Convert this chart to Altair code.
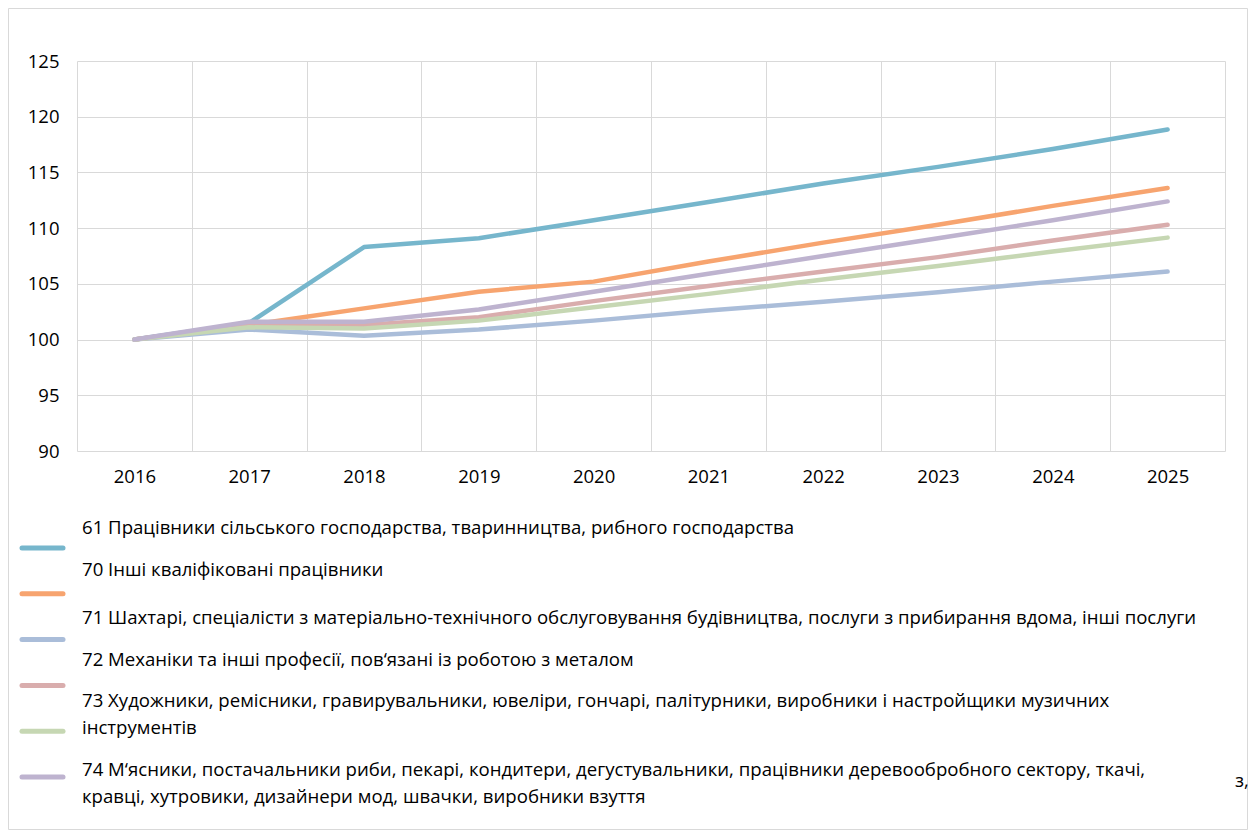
import altair as alt
import pandas as pd

years = [2016, 2017, 2018, 2019, 2020, 2021, 2022, 2023, 2024, 2025]

series_names = [
    "61 Працівники сільського господарства, тваринництва, рибного господарства",
    "70 Інші кваліфіковані працівники",
    "71 Шахтарі, спеціалісти з матеріально-технічного обслуговування будівництва, послуги з прибирання вдома, інші послуги",
    "72 Механіки та інші професії, пов‘язані із роботою з металом",
    "73 Художники, ремісники, гравирувальники, ювеліри, гончарі, палітурники, виробники і настройщики музичних\nінструментів",
    "74 М‘ясники, постачальники риби, пекарі, кондитери, дегустувальники, працівники деревообробного сектору, ткачі,\nкравці, хутровики, дизайнери мод, швачки, виробники взуття",
]
stray_text = "з,"

s61 = [100, 101.5, 108.3, 109.1, 110.7, 112.35, 114.0, 115.5, 117.1, 118.85]
s70 = [100, 101.3, 102.8, 104.3, 105.2, 107.0, 108.7, 110.3, 112.0, 113.6]
s71 = [100, 100.9, 100.35, 100.9, 101.7, 102.6, 103.4, 104.25, 105.2, 106.1]
s72 = [100, 101.3, 101.3, 102.0, 103.45, 104.8, 106.1, 107.4, 108.9, 110.3]
s73 = [100, 101.1, 101.0, 101.7, 102.9, 104.1, 105.4, 106.6, 107.9, 109.15]
s74 = [100, 101.6, 101.6, 102.7, 104.3, 105.9, 107.5, 109.1, 110.7, 112.4]

y_ticks = [90, 95, 100, 105, 110, 115, 120, 125]

colors = ["#76B6CC", "#F7A46F", "#AABDD9", "#D9ADAD", "#C6D7B3", "#BEB3CF"]

all_series = [s61, s70, s71, s72, s73, s74]
keys = [n.split(" ")[0] for n in series_names]

rows = []
for k, (key, vals) in enumerate(zip(keys, all_series)):
    for yr, v in zip(years, vals):
        rows.append({"year": str(yr), "value": v, "code": key, "order": k})
df = pd.DataFrame(rows)

color_scale = alt.Scale(domain=keys, range=colors)

lines = alt.Chart(df).mark_line(strokeWidth=4.5, strokeCap="round", strokeJoin="round").encode(
    x=alt.X("year:O", bandPosition=0.5,
            scale=alt.Scale(type="band", paddingInner=0, paddingOuter=0),
            axis=alt.Axis(title=None, labelAngle=0, tickBand="extent", grid=True, ticks=False,
                          domain=False, labelPadding=16, gridColor="#d9d9d9")),
    y=alt.Y("value:Q", scale=alt.Scale(domain=[90, 125], nice=False, zero=False),
            axis=alt.Axis(title=None, values=y_ticks, ticks=False, domain=False,
                          labelPadding=18, gridColor="#d9d9d9")),
    color=alt.Color("code:N", scale=color_scale, legend=None),
    order=alt.Order("order:Q"),
)

# custom legend (Excel-like layout)
text_offsets_px = [-20, -24, -22, -25, -30, -7]
slot_px = 45.8
leg_sym = pd.DataFrame({"code": keys, "idx": list(range(len(keys)))})
leg_rows = []
for i, name in enumerate(series_names):
    for j, line in enumerate(name.split("\n")):
        leg_rows.append({"text": line, "pos": i + (text_offsets_px[i] + j * 26.5) / slot_px})
leg_txt = pd.DataFrame(leg_rows)

leg_scale = alt.Scale(domain=[0, 5], range=[487, 716])

leg_rules = alt.Chart(leg_sym).mark_rule(strokeWidth=5, strokeCap="round").encode(
    x=alt.value(-55), x2=alt.value(-14),
    y=alt.Y("idx:Q", scale=leg_scale, axis=None),
    color=alt.Color("code:N", scale=color_scale, legend=None),
)
leg_text = alt.Chart(leg_txt).mark_text(align="left", baseline="middle", fontSize=18.6,
                                        color="#000000", font="Open Sans").encode(
    x=alt.value(5),
    y=alt.Y("pos:Q", scale=leg_scale, axis=None),
    text="text:N",
)
stray = alt.Chart(pd.DataFrame({"t": [stray_text]})).mark_text(
    align="left", baseline="middle", fontSize=18.6, color="#000000", font="Open Sans"
).encode(x=alt.value(1158), y=alt.value(720), text="t:N")

border = alt.Chart(pd.DataFrame({"a": [0]})).mark_rect(fill=None, stroke="#d9d9d9", strokeWidth=1).encode(
    x=alt.value(-68.5), x2=alt.value(1170.5), y=alt.value(-52.5), y2=alt.value(768.5)
)

chart = alt.layer(border, lines, leg_rules, leg_text, stray).resolve_scale(y="independent").properties(
    width=1148, height=390,
    autosize=alt.AutoSizeParams(type="none"),
    padding={"left": 69, "top": 53, "right": 23, "bottom": 380},
).configure_view(stroke=None).configure_axis(
    labelFont="Open Sans", labelFontSize=18.5, labelColor="#000000"
)

chart.save("out.html", embed_options={"renderer": "svg", "actions": False})
